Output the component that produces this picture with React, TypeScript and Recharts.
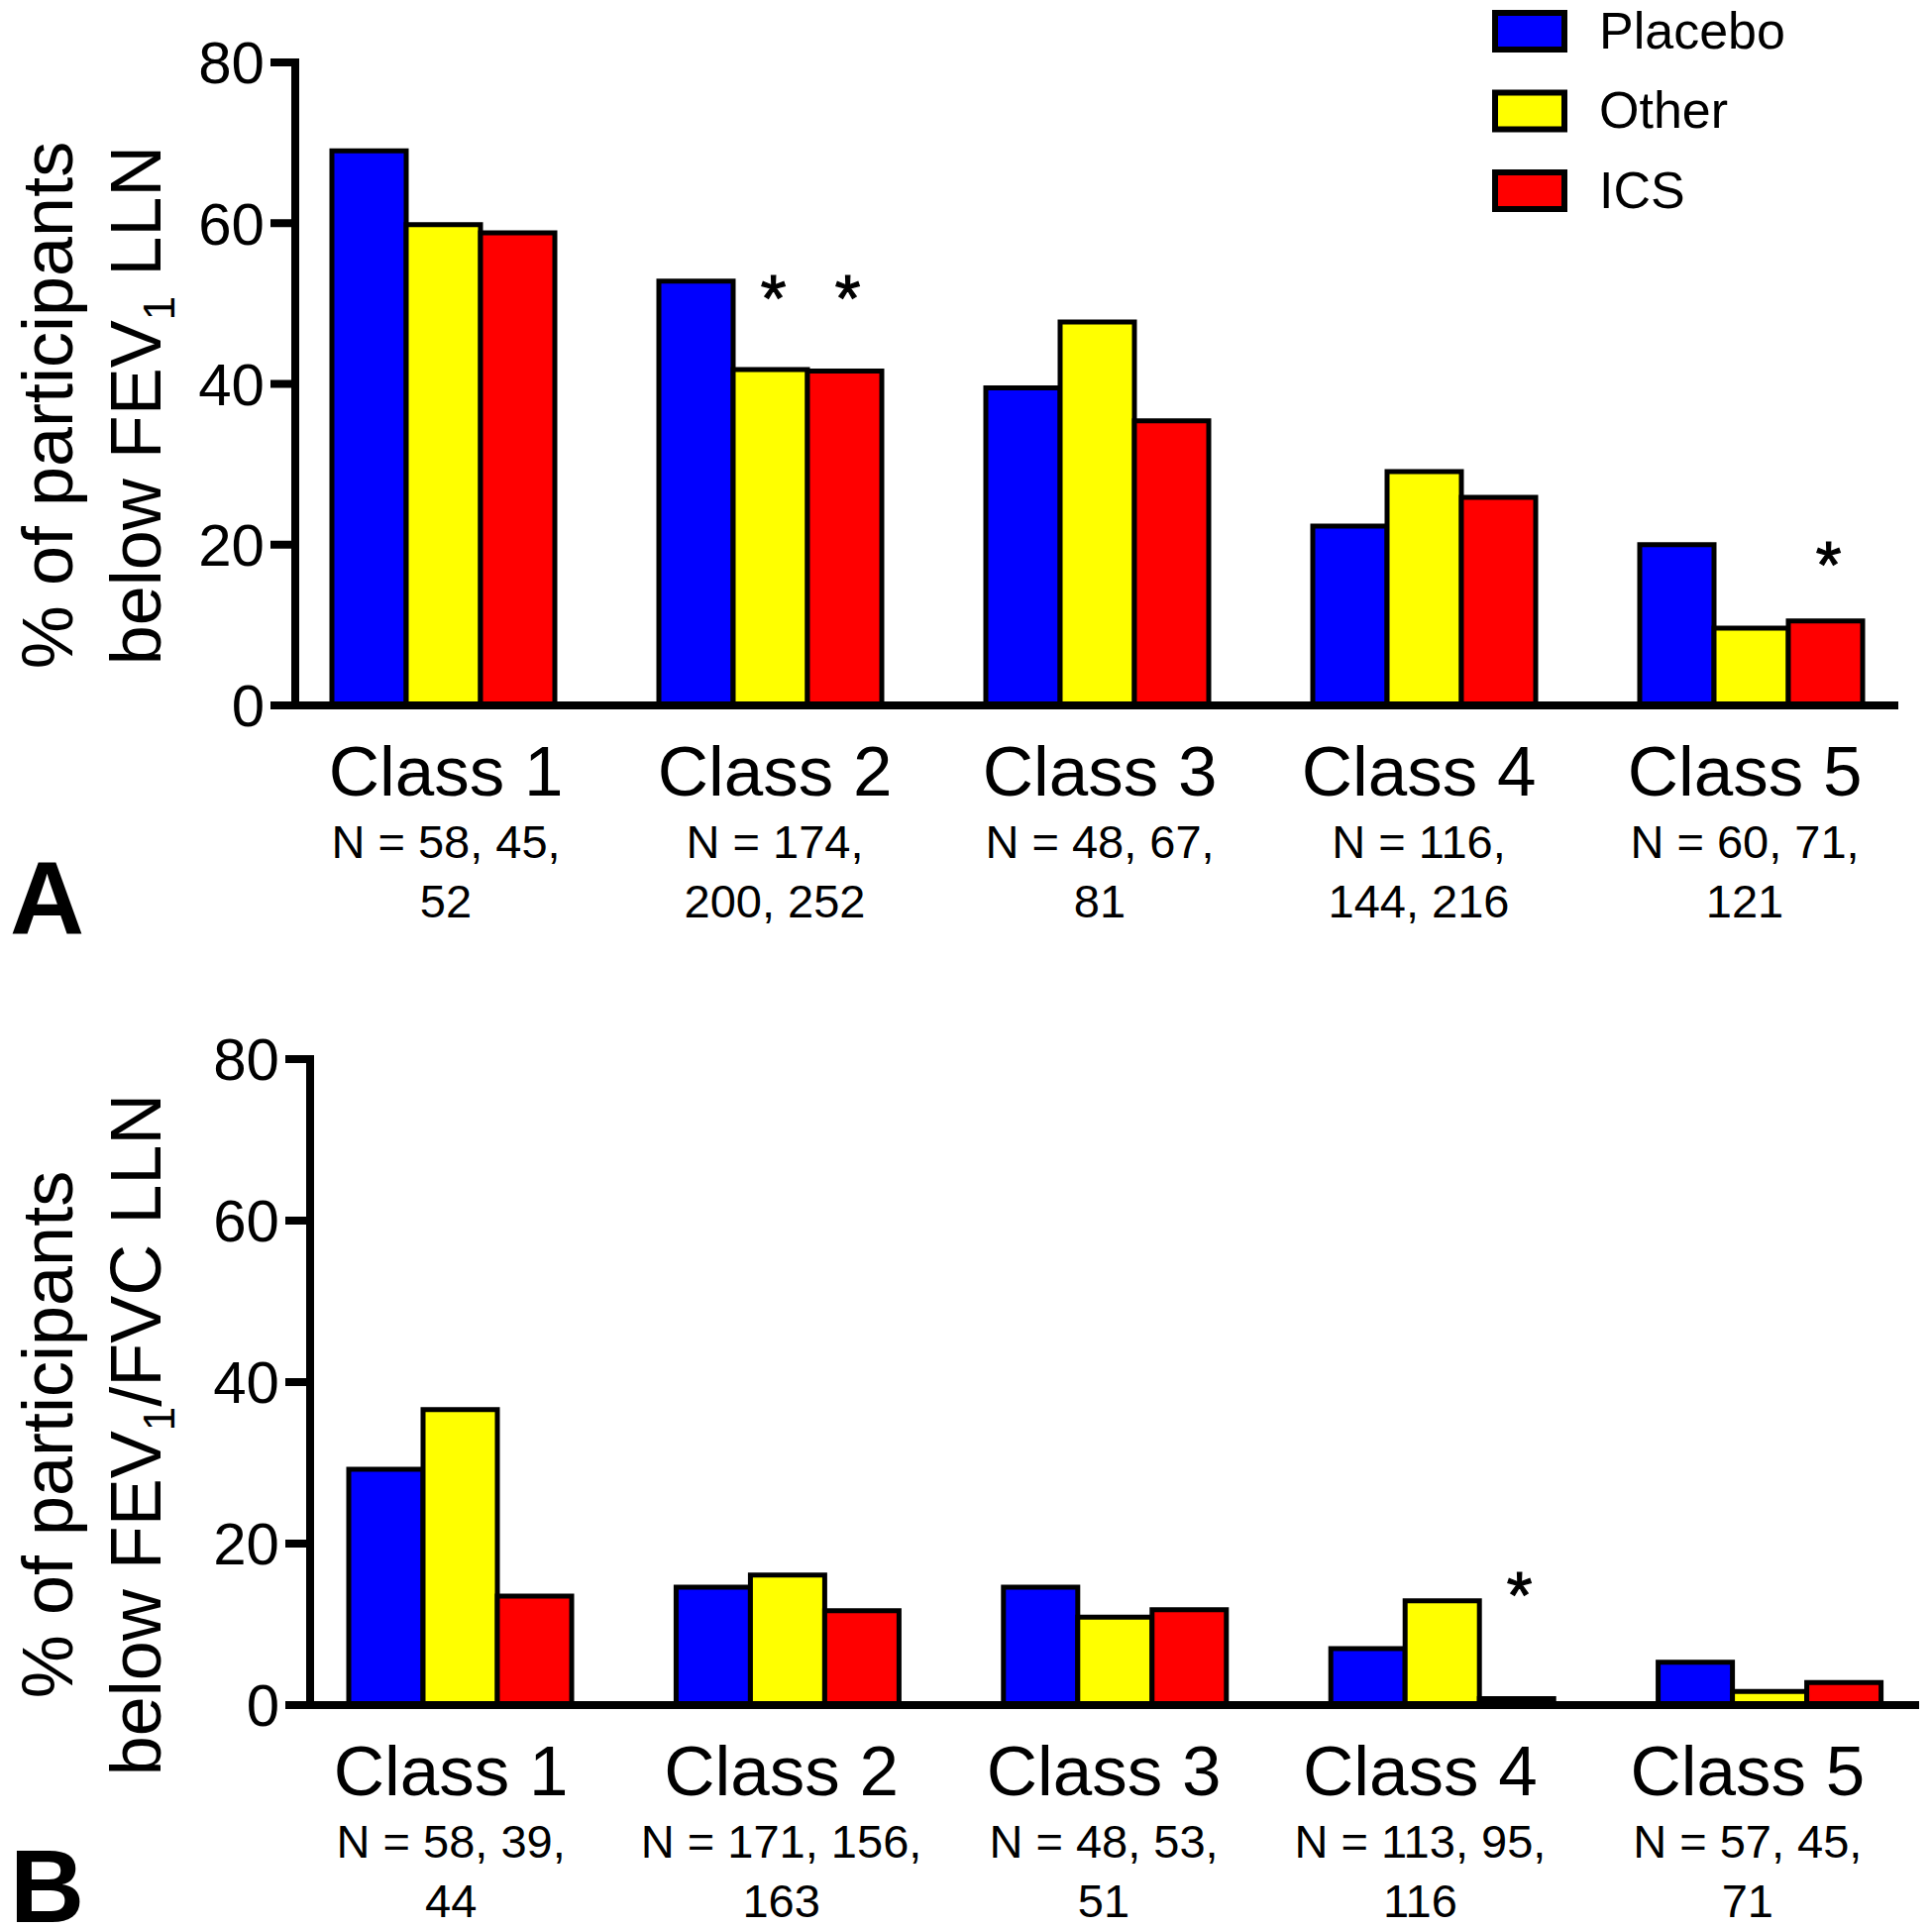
import React from "react";
import { BarChart, Bar, XAxis, YAxis, Legend, LabelList, Label } from "recharts";

const FONT = '"Liberation Sans", Arial, Helvetica, sans-serif';

const classes = ["Class 1", "Class 2", "Class 3", "Class 4", "Class 5"];
const seriesNames = ["Placebo", "Other", "ICS"];
const seriesColors = ["#0000FF", "#FFFF00", "#FF0000"];
const yTicks = [0, 20, 40, 60, 80];

// Panel A: % below FEV1 LLN
const placeboA = [69, 52.8, 39.5, 22.3, 20];
const otherA = [59.8, 41.8, 47.7, 29.1, 9.6];
const icsA = [58.8, 41.6, 35.4, 25.9, 10.5];
// level (in %) where an asterisk sits, null = none
const otherStarA = [null, 52.6, null, null, null];
const icsStarA = [null, 52.6, null, null, 19.5];
const nLabelsA = [
  ["N = 58, 45,", "52"],
  ["N = 174,", "200, 252"],
  ["N = 48, 67,", "81"],
  ["N = 116,", "144, 216"],
  ["N = 60, 71,", "121"],
];

// Panel B: % below FEV1/FVC LLN
const placeboB = [29.2, 14.6, 14.6, 7.0, 5.3];
const otherB = [36.6, 16.1, 10.9, 12.9, 1.7];
const icsB = [13.5, 11.7, 11.8, 0.8, 2.8];
const otherStarB = [null, null, null, null, null];
const icsStarB = [null, null, null, 15.6, null];
const nLabelsB = [
  ["N = 58, 39,", "44"],
  ["N = 171, 156,", "163"],
  ["N = 48, 53,", "51"],
  ["N = 113, 95,", "116"],
  ["N = 57, 45,", "71"],
];

const buildRows = (p, o, c, oStar, cStar, n) =>
  classes.map((cls, i) => ({
    cls,
    placebo: p[i],
    other: o[i],
    ics: c[i],
    otherStar: oStar[i],
    icsStar: cStar[i],
    n1: n[i][0],
    n2: n[i][1],
  }));

const rowsA = buildRows(placeboA, otherA, icsA, otherStarA, icsStarA, nLabelsA);
const rowsB = buildRows(placeboB, otherB, icsB, otherStarB, icsStarB, nLabelsB);

// legend keeps the series order Placebo / Other / ICS from top to bottom
const renderLegend = (props) => {
  const payload = [...(props.payload || [])].sort(
    (a, b) => seriesNames.indexOf(a.value) - seriesNames.indexOf(b.value)
  );
  return (
    <svg width={440} height={240} style={{ display: "block", overflow: "visible" }}>
      {payload.map((entry, i) => (
        <g key={entry.value}>
          <rect x={14} y={16 + i * 80.5} width={70} height={37} fill={entry.color} stroke="#000" strokeWidth={6} />
          <text x={119} y={16 + i * 80.5 + 35.5} fontSize={52} fontFamily={FONT} fill="#000">
            {entry.value}
          </text>
        </g>
      ))}
    </svg>
  );
};

function Panel({ rows, height, plotTop, plotBottom, axisX, rightMargin, pad, labelShift, title2, titleCenter, letter, letterY, legend }) {
  const pxPerUnit = (plotBottom - plotTop) / 80;

  // asterisk drawn over the bar centre, at a given % level
  const star = (props) => {
    const vb = props.viewBox || props;
    const lvl = props.value;
    if (lvl == null || vb.x == null) return null;
    const base = vb.y + vb.height;
    const cy = base - lvl * pxPerUnit;
    return (
      <text
        x={vb.x + vb.width / 2 + 3}
        y={cy + 39}
        textAnchor="middle"
        fontSize={66}
        fontFamily={FONT}
        fill="#000"
        stroke="#000"
        strokeWidth={1.2}
      >
        *
      </text>
    );
  };

  const classTick = (props) => {
    const { x, y, payload } = props;
    const idx = classes.indexOf(payload.value);
    const row = rows[idx];
    const cx = x + labelShift[idx];
    return (
      <g fontFamily={FONT} fill="#000" textAnchor="middle">
        <text x={cx} y={y + 91} fontSize={71}>{payload.value}</text>
        <text x={cx} y={y + 154} fontSize={47}>{row ? row.n1 : ""}</text>
        <text x={cx} y={y + 214} fontSize={47}>{row ? row.n2 : ""}</text>
      </g>
    );
  };

  const yTitle = () => (
    <g fontFamily={FONT} fill="#000">
      <text transform={`translate(73, ${titleCenter}) rotate(-90)`} textAnchor="middle" fontSize={72}>
        % of participants
      </text>
      <text transform={`translate(162, ${titleCenter}) rotate(-90)`} textAnchor="middle" fontSize={72}>
        below FEV
        <tspan fontSize={44} dy={14}>1</tspan>
        <tspan dy={-14}>{title2}</tspan>
      </text>
      <text x={10} y={letterY} fontSize={104} fontWeight="bold">{letter}</text>
    </g>
  );

  return (
    <BarChart
      width={1950}
      height={height}
      data={rows}
      margin={{ top: plotTop, right: rightMargin, left: 0, bottom: 0 }}
      barCategoryGap={53}
      barGap={0}
    >
      <XAxis
        dataKey="cls"
        height={height - plotBottom}
        padding={{ left: pad, right: pad }}
        axisLine={{ stroke: "#000", strokeWidth: 8 }}
        tickLine={false}
        tickSize={0}
        tickMargin={0}
        interval={0}
        tick={classTick}
      />
      <YAxis
        type="number"
        domain={[0, 80]}
        ticks={yTicks}
        width={axisX}
        tickSize={25}
        tickMargin={6}
        axisLine={{ stroke: "#000", strokeWidth: 8, strokeLinecap: "square" }}
        tickLine={{ stroke: "#000", strokeWidth: 8 }}
        tick={{ fill: "#000", fontSize: 60, fontFamily: FONT }}
      >
        <Label content={yTitle} />
      </YAxis>
      {legend && (
        <Legend
          layout="vertical"
          align="center"
          verticalAlign="middle"
          content={renderLegend}
          wrapperStyle={{ position: "absolute", left: 1495, top: -3, width: 440, height: 240 }}
        />
      )}
      <Bar dataKey="placebo" name={seriesNames[0]} fill={seriesColors[0]} stroke="#000" strokeWidth={5} isAnimationActive={false} />
      <Bar dataKey="other" name={seriesNames[1]} fill={seriesColors[1]} stroke="#000" strokeWidth={5} isAnimationActive={false}>
        <LabelList dataKey="otherStar" content={star} />
      </Bar>
      <Bar dataKey="ics" name={seriesNames[2]} fill={seriesColors[2]} stroke="#000" strokeWidth={5} isAnimationActive={false}>
        <LabelList dataKey="icsStar" content={star} />
      </Bar>
    </BarChart>
  );
}

export default function App() {
  return (
    <div style={{ position: "relative", width: 1950, height: 1946, background: "#fff", overflow: "hidden" }}>
      <style>{"body{margin:0;background:#fff}"}</style>
      <div style={{ position: "absolute", left: 0, top: 960 }}>
        <Panel
          rows={rowsB}
          height={1010}
          plotTop={109}
          plotBottom={761}
          axisX={313}
          rightMargin={13}
          pad={-14}
          labelShift={[-9, -6, -11, -22, -22]}
          title2="/FVC LLN"
          titleCenter={488}
          letter="B"
          letterY={980}
          legend={false}
        />
      </div>
      <div style={{ position: "absolute", left: 0, top: 0 }}>
        <Panel
          rows={rowsA}
          height={985}
          plotTop={63}
          plotBottom={712}
          axisX={298}
          rightMargin={34}
          pad={-16}
          labelShift={[3, 5, 3, -5, -6]}
          title2=" LLN"
          titleCenter={409}
          letter="A"
          letterY={942}
          legend
        />
      </div>
    </div>
  );
}
